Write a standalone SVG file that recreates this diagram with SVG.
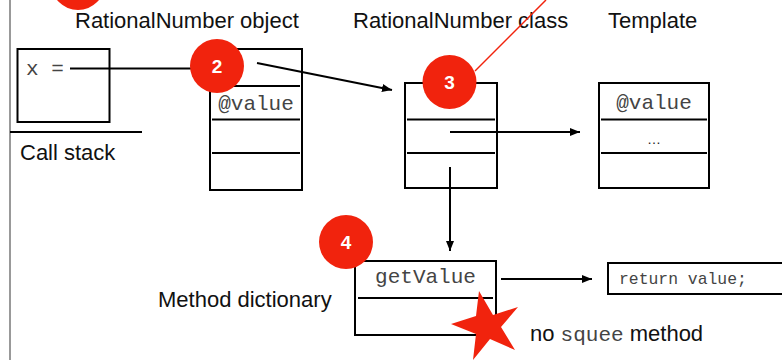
<svg xmlns="http://www.w3.org/2000/svg" width="782" height="360" viewBox="0 0 782 360">
<style>
.b{fill:#fff;stroke:#000;stroke-width:2}
.d{stroke:#000;stroke-width:2;fill:none}
.c{stroke:#000;stroke-width:2;fill:none;marker-end:url(#a)}
.s{font:22px "Liberation Sans",Arial,sans-serif;fill:#111}
.m{font:21px "Liberation Mono","Courier New",monospace;fill:#444}
.r{fill:#f1230d}
.n{font:bold 19px "Liberation Sans",Arial,sans-serif;fill:#fff;text-anchor:middle}
</style>
<defs><marker id="a" markerUnits="userSpaceOnUse" markerWidth="11" markerHeight="10" refX="10" refY="5" orient="auto"><path d="M0 1L10 5L0 9Z" fill="#000"/></marker></defs>
<rect width="782" height="360" fill="#fff"/>
<g id="frame"><path d="M10 0V360" stroke="#777" stroke-width="1.5"/><path class="d" d="M10 132H142" stroke-width="1.5"/></g>
<g id="labels">
<text class="s" x="75" y="28">RationalNumber object</text>
<text class="s" x="353" y="28">RationalNumber class</text>
<text class="s" x="608" y="28">Template</text>
<text class="s" x="20" y="160">Call stack</text>
<text class="s" x="158" y="307">Method dictionary</text>
<text class="s" x="530" y="341">no <tspan class="m">squee</tspan> method</text>
</g>
<g id="callstack"><rect class="b" x="17.500" y="49" width="92" height="73"/><text class="m" x="26" y="75">x =</text></g>
<g id="object"><rect class="b" x="210" y="49" width="92" height="141"/><path class="d" d="M212 86H300M212 119.500H300M212 153H300"/><text class="m" x="256" y="110" text-anchor="middle">@value</text></g>
<g id="class"><rect class="b" x="405" y="83" width="92" height="105"/><path class="d" d="M407 119.500H495M407 153H495"/></g>
<g id="template"><rect class="b" x="599" y="83" width="110" height="105"/><path class="d" d="M601 119.500H707M601 153H707"/><text class="m" x="654" y="109" text-anchor="middle">@value</text><text x="654" y="144" text-anchor="middle" style="font:14px 'Liberation Sans',sans-serif;fill:#222">…</text></g>
<g id="dictionary"><rect class="b" x="355" y="261" width="141" height="74"/><path class="d" d="M358 298H493"/><text class="m" x="425.500" y="283" text-anchor="middle">getValue</text></g>
<g id="code"><rect class="b" x="608" y="263" width="190" height="31"/><text class="m" x="619" y="284" style="font-size:16.400px">return value;</text></g>
<g id="connectors">
<path class="d" d="M70 68.500H195"/>
<path class="c" d="M257 63L392 90"/>
<path class="c" d="M450 132H580"/>
<path class="c" d="M450 167V251"/>
<path class="c" d="M501 279H592"/>
<path d="M475 71L546 0" stroke="#f1230d" stroke-width="1.500" fill="none"/>
</g>
<g id="step1"><circle class="r" cx="78" cy="-17" r="27"/></g>
<g id="step2"><circle class="r" cx="217" cy="66" r="27"/><text class="n" x="217" y="73">2</text></g>
<g id="step3"><circle class="r" cx="449.500" cy="82" r="27"/><text class="n" x="449.500" y="89">3</text></g>
<g id="step4"><circle class="r" cx="346" cy="242" r="27"/><text class="n" x="346" y="249">4</text></g>
<g id="star"><path class="r" d="M479 291L493 315L518 307L501 327L515 350L490 339L473 360L476 334L451 324L476 316Z"/></g>
</svg>
